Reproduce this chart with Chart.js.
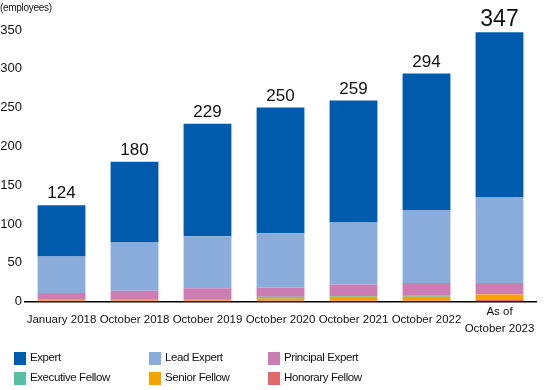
<!DOCTYPE html>
<html>
<head>
<meta charset="utf-8">
<script src="https://cdn.jsdelivr.net/npm/chart.js@4.4.0/dist/chart.umd.min.js"></script>
<style>
  html, body { margin: 0; padding: 0; background: #fff; }
  #wrap { position: relative; width: 550px; height: 390px; }
</style>
</head>
<body>
<div id="wrap"><canvas id="chart" width="550" height="390"></canvas></div>
<script>
// Data
const periods = ['January 2018', 'October 2018', 'October 2019', 'October 2020', 'October 2021', 'October 2022', ['As of', 'October 2023']];
const totals = [124, 180, 229, 250, 259, 294, 347];

const honoraryFellow = [1, 1, 1, 1, 1, 1, 2];
const seniorFellow = [1, 1, 1, 3, 5, 5, 7];
const executiveFellow = [1, 1, 1, 2, 1, 2, 0];
const principalExpert = [8, 11, 14, 12, 15, 16, 15];
const leadExpert = [47, 62, 67, 70, 80, 94, 110];
const expert = [66, 104, 145, 162, 157, 176, 213];

const yTicks = [0, 50, 100, 150, 200, 250, 300, 350];

const font = "'Liberation Sans', Arial, sans-serif";

// stacked bottom -> top
const series = [
  { label: 'Honorary Fellow', data: honoraryFellow, color: '#E2696A' },
  { label: 'Senior Fellow', data: seniorFellow, color: '#F4A300' },
  { label: 'Executive Fellow', data: executiveFellow, color: '#58BEA6' },
  { label: 'Principal Expert', data: principalExpert, color: '#CC7DB4' },
  { label: 'Lead Expert', data: leadExpert, color: '#8AACDA' },
  { label: 'Expert', data: expert, color: '#005BAC' }
];

// legend order as in the picture (rows of three)
const legendOrder = ['Expert', 'Lead Expert', 'Principal Expert', 'Executive Fellow', 'Senior Fellow', 'Honorary Fellow'];
const legendCols = [14, 149, 268];
const legendRows = [358, 378];

const extras = {
  id: 'extras',
  afterDraw(chart) {
    const c = chart.ctx;
    const x = chart.scales.x;
    const y = chart.scales.y;
    c.save();

    // unit label
    c.fillStyle = '#111';
    c.font = '10px ' + font;
    c.letterSpacing = '-0.3px';
    c.textAlign = 'left';
    c.textBaseline = 'middle';
    c.fillText('(employees)', 0, 8);
    c.letterSpacing = '0px';

    // totals above bars
    c.textAlign = 'center';
    c.textBaseline = 'bottom';
    totals.forEach((t, i) => {
      const last = i === totals.length - 1;
      c.font = (last ? '23px ' : '17px ') + font;
      c.fillText(String(t), x.getPixelForValue(i), y.getPixelForValue(t) - (last ? 1 : 3));
    });

    // legend
    c.font = '11.5px ' + font;
    c.letterSpacing = '-0.4px';
    c.textAlign = 'left';
    c.textBaseline = 'middle';
    legendOrder.forEach((name, i) => {
      const s = series.find(d => d.label === name);
      const lx = legendCols[i % 3];
      const ly = legendRows[Math.floor(i / 3)];
      c.fillStyle = s.color;
      c.fillRect(lx, ly - 6, 12, 13);
      c.fillStyle = '#111';
      c.fillText(name, lx + 16, ly);
    });
    c.restore();
  }
};

new Chart(document.getElementById('chart'), {
  type: 'bar',
  data: {
    labels: periods,
    datasets: series.map(s => ({
      label: s.label,
      data: s.data,
      backgroundColor: s.color,
      borderWidth: 0,
      categoryPercentage: 1,
      barPercentage: 0.655
    }))
  },
  options: {
    responsive: false,
    animation: false,
    layout: { padding: { top: 30, right: 14, bottom: 34, left: 0 } },
    plugins: {
      legend: { display: false },
      tooltip: { enabled: false }
    },
    scales: {
      x: {
        stacked: true,
        grid: { display: false, drawTicks: false },
        border: { color: '#000', width: 1.5 },
        ticks: {
          color: '#111',
          font: { family: font, size: 11.5, lineHeight: 1.5 },
          padding: 10,
          crossAlign: 'center',
          maxRotation: 0,
          autoSkip: false
        }
      },
      y: {
        stacked: true,
        min: 0,
        max: 350,
        grid: { display: false, drawTicks: false },
        border: { display: false },
        afterFit(scale) { scale.width = 25; },
        afterBuildTicks(scale) { scale.ticks = yTicks.map(v => ({ value: v })); },
        ticks: {
          color: '#111',
          font: { family: font, size: 13 },
          padding: 3
        }
      }
    }
  },
  plugins: [extras]
});
</script>
</body>
</html>
